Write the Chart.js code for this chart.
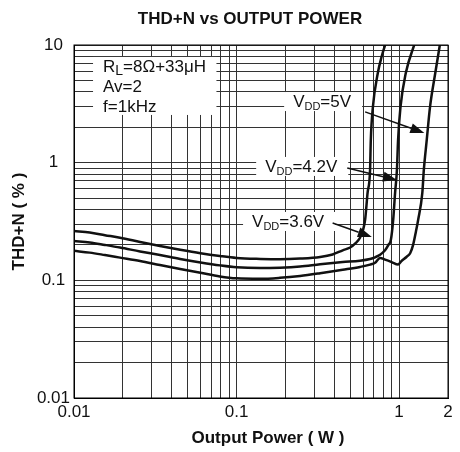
<!DOCTYPE html>
<html>
<head>
<meta charset="utf-8">
<script src="https://cdn.jsdelivr.net/npm/chart.js@4.4.0/dist/chart.umd.min.js"></script>
<style>
  html, body { margin: 0; padding: 0; background: #fff; }
</style>
</head>
<body>
<canvas id="graphTHD" width="460" height="452"></canvas>
<script>
const FONT = "'Liberation Sans', Arial, sans-serif";

// eixo X (W) e eixo Y (%) - escalas log
const xTicks = [0.01, 0.02, 0.03, 0.04, 0.05, 0.06, 0.07, 0.08, 0.09,
  0.1, 0.2, 0.3, 0.4, 0.5, 0.6, 0.7, 0.8, 0.9, 1, 2];
const xTickLabels = [0.01, 0.1, 1, 2];
const yTicks = [0.01, 0.02, 0.03, 0.04, 0.05, 0.06, 0.07, 0.08, 0.09,
  0.1, 0.2, 0.3, 0.4, 0.5, 0.6, 0.7, 0.8, 0.9,
  1, 2, 3, 4, 5, 6, 7, 8, 9, 10];
const yTickLabels = [0.01, 0.1, 1, 10];

// VDD = 3.6V
const power36 = [0.010, 0.0125, 0.0155, 0.0192, 0.0255, 0.0338, 0.045, 0.060, 0.079, 0.100,
  0.140, 0.185, 0.246, 0.327, 0.390, 0.450, 0.500, 0.540, 0.575, 0.600,
  0.618, 0.640, 0.663, 0.670, 0.690, 0.740, 0.780, 0.830];
const thd36 = [0.263, 0.255, 0.242, 0.230, 0.212, 0.196, 0.182, 0.170, 0.161, 0.155,
  0.152, 0.151, 0.153, 0.158, 0.166, 0.180, 0.190, 0.207, 0.230, 0.268,
  0.326, 0.553, 0.867, 1.56, 2.97, 5.78, 7.9, 10.5];

// VDD = 4.2V
const power42 = [0.010, 0.0125, 0.0155, 0.0192, 0.0255, 0.0338, 0.045, 0.060, 0.079, 0.100,
  0.140, 0.185, 0.246, 0.327, 0.450, 0.575, 0.663, 0.712, 0.764, 0.820,
  0.860, 0.890, 0.920, 0.945, 0.970, 0.986, 1.02, 1.10, 1.25];
const thd42 = [0.216, 0.210, 0.200, 0.190, 0.176, 0.164, 0.152, 0.142, 0.134, 0.129,
  0.127, 0.128, 0.131, 0.137, 0.143, 0.147, 0.152, 0.157, 0.165, 0.180,
  0.200, 0.220, 0.326, 0.553, 0.867, 1.56, 2.97, 5.78, 10.4];

// VDD = 5V
const power50 = [0.010, 0.0125, 0.0155, 0.0192, 0.0255, 0.0338, 0.045, 0.060, 0.079, 0.100,
  0.140, 0.185, 0.246, 0.327, 0.450, 0.575, 0.663, 0.712, 0.764, 0.820,
  0.900, 0.986, 1.03, 1.11, 1.17, 1.22, 1.27, 1.31, 1.39, 1.42,
  1.48, 1.55, 1.67, 1.79];
const thd50 = [0.178, 0.172, 0.164, 0.156, 0.146, 0.135, 0.125, 0.116, 0.108, 0.104,
  0.103, 0.105, 0.109, 0.115, 0.123, 0.130, 0.136, 0.141, 0.155, 0.150,
  0.143, 0.136, 0.145, 0.158, 0.170, 0.200, 0.260, 0.326, 0.553, 0.867,
  1.56, 2.97, 5.78, 10.4];

const toPoints = (xs, ys) => xs.map((x, i) => ({ x: x, y: ys[i] }));

const curve = (label, xs, ys) => ({
  label: label,
  data: toPoints(xs, ys),
  borderColor: '#111',
  borderWidth: 2.5,
  pointRadius: 0,
  fill: false,
  cubicInterpolationMode: 'monotone'
});

// rotulos dentro do grafico (posicao em W / %)
const notes = [
  { x: 0.223, y: 2.97, main: 'V', sub: 'DD', rest: '=5V', from: [0.618, 2.70], to: [1.43, 1.79] },
  { x: 0.150, y: 0.834, main: 'V', sub: 'DD', rest: '=4.2V', from: [0.48, 0.90], to: [0.97, 0.713] },
  { x: 0.1246, y: 0.284, main: 'V', sub: 'DD', rest: '=3.6V', from: [0.39, 0.307], to: [0.68, 0.234] }
];
const condAnchor = { x: 0.01509, y: 5.90 };

const measureSub = (ctx, main, sub, rest) => {
  ctx.font = '17px ' + FONT;
  let w = ctx.measureText(main).width + ctx.measureText(rest).width;
  ctx.font = '11px ' + FONT;
  return w + ctx.measureText(sub).width;
};

const drawSub = (ctx, x, y, main, sub, rest, subSize) => {
  ctx.font = '17px ' + FONT;
  ctx.fillText(main, x, y);
  x += ctx.measureText(main).width;
  ctx.font = subSize + 'px ' + FONT;
  ctx.fillText(sub, x, y + 3);
  x += ctx.measureText(sub).width;
  ctx.font = '17px ' + FONT;
  ctx.fillText(rest, x, y);
};

const drawArrow = (ctx, x1, y1, x2, y2) => {
  const a = Math.atan2(y2 - y1, x2 - x1);
  const len = 14, half = 5;
  const bx = x2 - len * Math.cos(a), by = y2 - len * Math.sin(a);
  ctx.lineWidth = 1.5;
  ctx.beginPath();
  ctx.moveTo(x1, y1);
  ctx.lineTo(bx, by);
  ctx.stroke();
  ctx.beginPath();
  ctx.moveTo(x2, y2);
  ctx.lineTo(bx + half * Math.sin(a), by - half * Math.cos(a));
  ctx.lineTo(bx - half * Math.sin(a), by + half * Math.cos(a));
  ctx.closePath();
  ctx.fill();
};

const notesPlugin = {
  id: 'notes',
  afterDatasetsDraw(chart) {
    const ctx = chart.ctx;
    const xs = chart.scales.x, ys = chart.scales.y;
    const area = chart.chartArea;
    ctx.save();
    ctx.textBaseline = 'alphabetic';
    ctx.textAlign = 'left';

    // moldura
    ctx.strokeStyle = '#000';
    ctx.lineWidth = 1;
    ctx.strokeRect(area.left, area.top, area.right - area.left, area.bottom - area.top);

    // condicoes de teste
    const cx = xs.getPixelForValue(condAnchor.x);
    const cy = ys.getPixelForValue(condAnchor.y);
    const lines = ['Av=2', 'f=1kHz'];
    let w = measureSub(ctx, 'R', 'L', '=8Ω+33μH');
    ctx.fillStyle = '#fff';
    ctx.fillRect(cx - 10, cy - 15, w + 22, 58);
    ctx.fillStyle = '#111';
    ctx.font = '17px ' + FONT;
    ctx.fillText('R', cx, cy);
    const rw = ctx.measureText('R').width;
    ctx.font = '14px ' + FONT;
    ctx.fillText('L', cx + rw, cy + 3);
    const lw = ctx.measureText('L').width;
    ctx.font = '17px ' + FONT;
    ctx.fillText('=8Ω+33μH', cx + rw + lw, cy);
    lines.forEach((t, i) => ctx.fillText(t, cx, cy + 20 * (i + 1)));

    // VDD
    notes.forEach(n => {
      const px = xs.getPixelForValue(n.x);
      const py = ys.getPixelForValue(n.y);
      const tw = measureSub(ctx, n.main, n.sub, n.rest);
      ctx.fillStyle = '#fff';
      ctx.fillRect(px - 9, py - 15, tw + 20, 19);
      ctx.fillStyle = '#111';
      ctx.strokeStyle = '#111';
      drawSub(ctx, px, py, n.main, n.sub, n.rest, 11);
      drawArrow(ctx,
        xs.getPixelForValue(n.from[0]), ys.getPixelForValue(n.from[1]),
        xs.getPixelForValue(n.to[0]), ys.getPixelForValue(n.to[1]));
    });

    // titulo e titulo do eixo X
    ctx.textAlign = 'center';
    ctx.textBaseline = 'middle';
    ctx.font = 'bold 17px ' + FONT;
    ctx.fillText('THD+N vs OUTPUT POWER', chart.width / 2 + 20, 19);
    ctx.fillText('Output Power ( W )', (area.left + area.right) / 2 + 7, 438);
    ctx.restore();
  }
};

let ctx = document.getElementById('graphTHD').getContext('2d');

let graphTHD = new Chart(ctx, {
  type: 'line',
  data: {
    datasets: [
      curve('VDD=3.6V', power36, thd36),
      curve('VDD=4.2V', power42, thd42),
      curve('VDD=5V', power50, thd50)
    ]
  },
  options: {
    responsive: false,
    animation: false,
    devicePixelRatio: 1,
    layout: {
      padding: { top: 45, right: 12, bottom: 0, left: 0 }
    },
    plugins: {
      legend: { display: false },
      tooltip: { enabled: false },
      title: { display: false }
    },
    scales: {
      x: {
        type: 'logarithmic',
        position: 'bottom',
        min: 0.01,
        max: 2,
        afterBuildTicks: (scale) => { scale.ticks = xTicks.map(v => ({ value: v })); },
        afterFit: (scale) => { scale.height = 54; },
        ticks: {
          autoSkip: false,
          maxRotation: 0,
          padding: 4,
          color: '#111',
          font: { family: FONT, size: 17 },
          callback: (value) => xTickLabels.includes(value) ? String(value) : ''
        },
        grid: {
          color: '#333',
          lineWidth: 1,
          drawTicks: false
        },
        border: { color: '#000', width: 1 }
      },
      y: {
        type: 'logarithmic',
        min: 0.01,
        max: 10,
        afterBuildTicks: (scale) => { scale.ticks = yTicks.map(v => ({ value: v })); },
        afterFit: (scale) => { scale.width = 74; },
        title: {
          display: true,
          text: 'THD+N ( % )',
          color: '#111',
          font: { family: FONT, size: 17, weight: 'bold' },
          padding: { top: 9, bottom: 0 }
        },
        ticks: {
          autoSkip: false,
          crossAlign: 'center',
          padding: 4,
          color: '#111',
          font: { family: FONT, size: 17 },
          callback: (value) => yTickLabels.includes(value) ? String(value) : ''
        },
        grid: {
          color: '#333',
          lineWidth: 1,
          drawTicks: false
        },
        border: { color: '#000', width: 1 }
      }
    }
  },
  plugins: [notesPlugin]
});
</script>
</body>
</html>
